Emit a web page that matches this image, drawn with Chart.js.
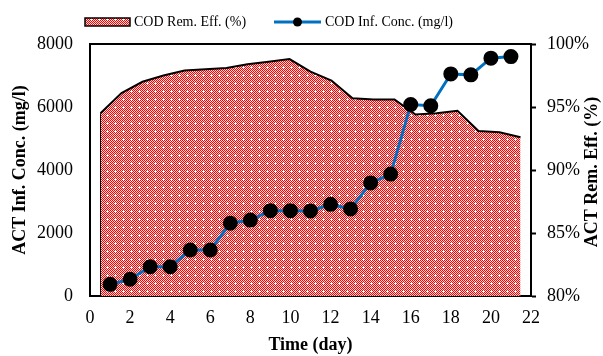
<!DOCTYPE html>
<html>
<head>
<meta charset="utf-8">
<script src="https://cdn.jsdelivr.net/npm/chart.js@4.4.1/dist/chart.umd.min.js"></script>
<style>
  html, body { margin: 0; padding: 0; background: #fff; }
</style>
</head>
<body>
<canvas id="chart" width="603" height="356"></canvas>
<script>
// data
const days = [1, 2, 3, 4, 5, 6, 7, 8, 9, 10, 11, 12, 13, 14, 15, 16, 17, 18, 19, 20, 21];
const dayLabels = days.map(String);
const codConc = [370, 530, 930, 930, 1460, 1460, 2310, 2410, 2710, 2710, 2700, 2910, 2760, 3590, 3870, 6080, 6040, 7050, 7020, 7550, 7600];
const remEff = [94.5, 96.1, 97.0, 97.5, 97.9, 98.0, 98.1, 98.4, 98.6, 98.8, 97.8, 97.1, 95.7, 95.6, 95.6, 94.4, 94.5, 94.7, 93.1, 93.0, 92.6];

const serif = '"Liberation Serif", "Times New Roman", serif';
const lineBlue = '#0070C0';

// red checker hatch like the excel pattern fill
function makePattern() {
  const tile = document.createElement('canvas');
  tile.width = 8; tile.height = 8;
  const t = tile.getContext('2d');
  for (let y = 0; y < 8; y++) {
    for (let x = 0; x < 8; x++) {
      t.fillStyle = (x + y) % 2 === 0 ? '#ff0000' : '#ffdcdc';
      t.fillRect(x, y, 1, 1);
    }
  }
  t.fillStyle = '#ffffff';
  t.fillRect(3, 2, 1, 3);
  t.fillRect(2, 3, 3, 1);
  return t.createPattern(tile, 'repeat');
}
const hatch = makePattern();

const extras = {
  id: 'extras',
  afterDatasetsDraw(chart) {
    // thin outline on the left edge of the area
    const first = chart.getDatasetMeta(1).data[0];
    const ctx = chart.ctx;
    ctx.save();
    ctx.strokeStyle = '#000';
    ctx.lineWidth = 1;
    ctx.beginPath();
    ctx.moveTo(first.x, first.y);
    ctx.lineTo(first.x, chart.chartArea.bottom);
    ctx.stroke();
    ctx.restore();
  },
  afterDraw(chart) {
    const ctx = chart.ctx;
    const a = chart.chartArea;
    ctx.save();
    // top border of plot
    ctx.strokeStyle = '#000';
    ctx.lineWidth = 2;
    ctx.beginPath();
    ctx.moveTo(a.left - 1, a.top);
    ctx.lineTo(a.right + 1, a.top);
    ctx.stroke();

    // legend
    ctx.fillStyle = hatch;
    ctx.fillRect(85, 18, 45, 8);
    ctx.lineWidth = 1.5;
    ctx.strokeRect(85, 18, 45, 8);
    ctx.font = '14px ' + serif;
    ctx.fillStyle = '#000';
    ctx.textBaseline = 'middle';
    ctx.textAlign = 'left';
    ctx.fillText('COD Rem. Eff. (%)', 134, 22);

    ctx.strokeStyle = lineBlue;
    ctx.lineWidth = 3;
    ctx.beginPath();
    ctx.moveTo(274, 22);
    ctx.lineTo(321, 22);
    ctx.stroke();
    ctx.fillStyle = '#000';
    ctx.beginPath();
    ctx.arc(297.5, 22, 4.5, 0, Math.PI * 2);
    ctx.fill();
    ctx.fillText('COD Inf. Conc. (mg/l)', 325, 22);

    // right axis title, reads bottom to top
    ctx.font = 'bold 18px ' + serif;
    ctx.translate(592, 172);
    ctx.rotate(-Math.PI / 2);
    ctx.textAlign = 'center';
    ctx.fillText('ACT Rem. Eff. (%)', 0, 0);
    ctx.restore();
  }
};

const tickFont = { family: serif, size: 18 };
const titleFont = { family: serif, size: 18, weight: 'bold' };

new Chart(document.getElementById('chart'), {
  data: {
    datasets: [
      {
        type: 'line',
        label: 'COD Inf. Conc. (mg/l)',
        data: days.map((d, i) => ({ x: d, y: codConc[i] })),
        xAxisID: 'x',
        yAxisID: 'y',
        borderColor: lineBlue,
        borderWidth: 3,
        pointRadius: 6,
        pointBackgroundColor: '#000',
        pointBorderColor: '#000',
        fill: false,
        tension: 0,
        order: 0
      },
      {
        type: 'line',
        label: 'COD Rem. Eff. (%)',
        data: remEff,
        xAxisID: 'x2',
        yAxisID: 'y2',
        borderColor: '#000',
        borderWidth: 2,
        backgroundColor: hatch,
        pointRadius: 0,
        fill: 'start',
        tension: 0,
        order: 1
      }
    ]
  },
  options: {
    responsive: false,
    animation: false,
    devicePixelRatio: 1,
    layout: { padding: { top: 44, left: 0, right: 0, bottom: 0 } },
    plugins: { legend: { display: false }, tooltip: { enabled: false } },
    scales: {
      x: {
        type: 'linear',
        position: 'bottom',
        min: 0, max: 22,
        ticks: { stepSize: 2, color: '#000', font: tickFont, padding: 11, callback: v => String(v) },
        grid: { drawOnChartArea: false, drawTicks: false },
        border: { color: '#000', width: 2 },
        title: { display: true, text: 'Time (day)', color: '#000', font: titleFont, padding: { top: 0, bottom: 0 } },
        afterFit: s => { s.height = 60; }
      },
      x2: {
        type: 'category',
        labels: dayLabels,
        offset: true,
        display: false
      },
      y: {
        type: 'linear',
        position: 'left',
        min: 0, max: 8000,
        ticks: { stepSize: 2000, color: '#000', font: tickFont, padding: 17, callback: v => String(v) },
        grid: { drawOnChartArea: false, drawTicks: false },
        border: { color: '#000', width: 2 },
        title: { display: true, text: 'ACT Inf. Conc. (mg/l)', color: '#000', font: titleFont, padding: { top: 10, bottom: 0 } },
        afterFit: s => { s.width = 90; }
      },
      y2: {
        type: 'linear',
        position: 'right',
        min: 80, max: 100,
        ticks: { stepSize: 5, color: '#000', font: tickFont, padding: 11, callback: v => v + '%' },
        grid: { drawOnChartArea: false, drawTicks: true, tickLength: 5, tickColor: '#000', tickWidth: 2 },
        border: { color: '#000', width: 2 },
        afterFit: s => { s.width = 72; }
      }
    }
  },
  plugins: [extras]
});
</script>
</body>
</html>
